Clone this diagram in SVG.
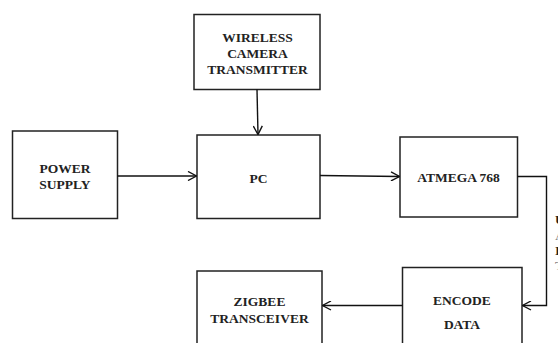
<svg xmlns="http://www.w3.org/2000/svg" width="558" height="343" viewBox="0 0 558 343">
<style>
.box{fill:#fff;stroke:#222;stroke-width:1.5}
.t{font-family:"Liberation Serif","Times New Roman",serif;font-weight:bold;font-size:13.5px;fill:#222;text-anchor:middle}
.e{font-family:"Liberation Serif","Times New Roman",serif;font-size:13.5px}
.c{fill:none;stroke:#111;stroke-width:1.4}
</style>
<defs>
<marker id="ah" viewBox="0 0 10 10" refX="9.5" refY="5" markerWidth="10" markerHeight="10" markerUnits="userSpaceOnUse" orient="auto">
<path d="M1,0.5 L9.5,5 L1,9.5" fill="none" stroke="#111" stroke-width="1.4"/>
</marker>
</defs>
<rect width="558" height="343" fill="#fff"/>
<g id="wireless"><rect class="box" x="194" y="14.5" width="126" height="75"/>
<text class="t" x="257.5" y="41.5">WIRELESS</text><text class="t" x="257.5" y="57.5">CAMERA</text><text class="t" x="257.5" y="74">TRANSMITTER</text></g>
<g id="power"><rect class="box" x="12.5" y="131" width="105" height="87.5"/>
<text class="t" x="65" y="172.5">POWER</text><text class="t" x="65" y="188.5">SUPPLY</text></g>
<g id="pc"><rect class="box" x="197" y="135" width="123" height="83.5"/>
<text class="t" x="258.5" y="183">PC</text></g>
<g id="atmega"><rect class="box" x="400" y="137" width="117.5" height="80"/>
<text class="t" x="458.5" y="182">ATMEGA 768</text></g>
<g id="encode"><rect class="box" x="402.5" y="267.5" width="119.5" height="90"/>
<text class="t" x="462" y="305">ENCODE</text><text class="t" x="462" y="328.5">DATA</text></g>
<g id="zigbee"><rect class="box" x="197" y="271" width="125" height="90"/>
<text class="t" x="259.5" y="306">ZIGBEE</text><text class="t" x="259.5" y="322.5">TRANSCEIVER</text></g>
<g id="side-label">
<text class="e" x="555" y="224" font-weight="bold" fill="#222">U</text>
<text class="e" x="555" y="240" fill="#777">A</text>
<text class="e" x="555" y="254.5" font-weight="bold" fill="#222">I</text>
<text class="e" x="555" y="270" fill="#777">T</text>
</g>
<g id="connectors">
<path class="c" d="M257,89.5 L258,134.5" marker-end="url(#ah)"/>
<path class="c" d="M117.5,176 L196.5,176" marker-end="url(#ah)"/>
<path class="c" d="M320,175.5 L399.5,176.5" marker-end="url(#ah)"/>
<path class="c" d="M517.5,176.5 L546.5,176.5 L546.5,305.5 L522.5,305.5" marker-end="url(#ah)"/>
<path class="c" d="M402.5,305.5 L322.5,305.5" marker-end="url(#ah)"/>
</g>
</svg>
